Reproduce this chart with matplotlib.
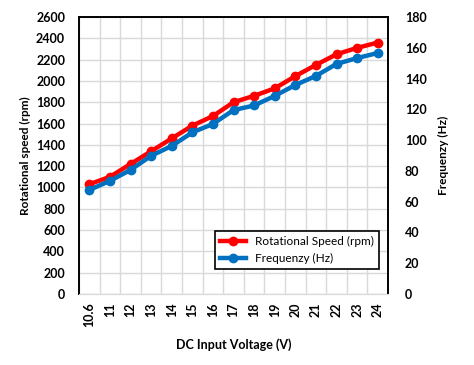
import numpy as np
import matplotlib.pyplot as plt
import matplotlib as mpl
from matplotlib.ticker import MultipleLocator, FixedLocator

mpl.rcParams['font.family'] = ['Lato', 'DejaVu Sans']

voltage = ['10.6', '11', '12', '13', '14', '15', '16', '17', '18', '19',
           '20', '21', '22', '23', '24']
speed_rpm = [1030, 1100, 1220, 1340, 1460, 1580, 1670, 1800, 1860, 1930,
             2045, 2150, 2250, 2310, 2360]
freq_hz = [67.6, 73.5, 80.6, 89.8, 96.2, 105, 110.5, 119.5, 122.5, 128.7,
           135.8, 141.7, 149.5, 153.3, 156.6]

red = '#FF0000'
blue = '#0070C0'

fig = plt.figure(figsize=(4.74, 3.65), dpi=100)
ax = fig.add_axes([0.1667, 0.1945, 0.652, 0.759])
ax2 = ax.twinx()

x = np.arange(len(voltage))
l1, = ax.plot(x, speed_rpm, color=red, lw=3.2, marker='o', ms=6,
              label='Rotational Speed (rpm)')
l2, = ax2.plot(x, freq_hz, color=blue, lw=3.2, marker='o', ms=6,
               label='Frequenzy (Hz)')

ax.set_xlim(-0.5, len(voltage) - 0.5)
ax.set_ylim(0, 2600)
ax2.set_ylim(0, 180)
ax.yaxis.set_major_locator(MultipleLocator(200))
ax2.yaxis.set_major_locator(MultipleLocator(20))
ax.set_xticks(x)
ax.set_xticklabels(voltage, rotation=90, fontweight='bold', fontsize=9)
ax.xaxis.set_minor_locator(FixedLocator(np.arange(-0.5, len(voltage), 1)))

ax.grid(True, axis='y', which='major', color='#d9d9d9', lw=1)
ax.grid(True, axis='x', which='minor', color='#d9d9d9', lw=1)
ax.set_axisbelow(True)
ax.tick_params(axis='x', which='both', length=0, pad=6)
ax.tick_params(axis='y', length=0, pad=10)
ax2.tick_params(length=0, pad=12)
for lab in ax.get_yticklabels() + ax2.get_yticklabels():
    lab.set_fontweight('bold')
    lab.set_fontsize(9)

for a in (ax, ax2):
    for s in ('left', 'right', 'top'):
        a.spines[s].set_color('black')
        a.spines[s].set_linewidth(1.2)
    a.spines['bottom'].set_color('#d9d9d9')

ax.set_xlabel('DC Input Voltage (V)', fontweight='bold', fontsize=9, labelpad=8)
ax.set_ylabel('Rotational speed (rpm)', fontweight='bold', fontsize=8.5, labelpad=12)
ax2.set_ylabel('Frequenzy (Hz)', fontweight='bold', fontsize=8.5, labelpad=8)
ax.yaxis.set_label_coords(-0.155, 0.5)

leg = ax2.legend(handles=[l1, l2], loc='lower right', bbox_to_anchor=(0.99, 0.07),
                 fancybox=False, edgecolor='black', framealpha=1, fontsize=8.5,
                 handlelength=2.2, borderpad=0.4, labelspacing=0.5)
leg.get_frame().set_linewidth(1.2)

fig.savefig('out.png', dpi=100)
